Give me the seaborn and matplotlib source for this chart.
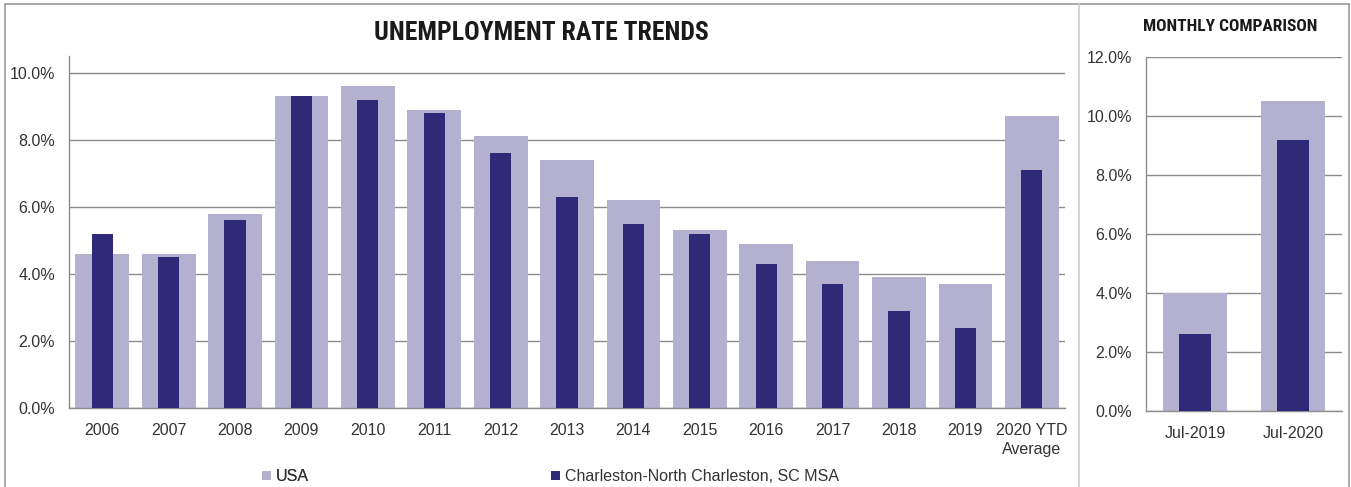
import matplotlib
matplotlib.use("Agg")
import matplotlib.pyplot as plt
import seaborn as sns
import pandas as pd
from matplotlib.patches import Patch
from matplotlib.lines import Line2D
from matplotlib.ticker import FuncFormatter, FixedLocator

# ---- data ----
years = ["2006", "2007", "2008", "2009", "2010", "2011", "2012", "2013", "2014",
         "2015", "2016", "2017", "2018", "2019", "2020 YTD\nAverage"]
usa = [4.6, 4.6, 5.8, 9.3, 9.6, 8.9, 8.1, 7.4, 6.2, 5.3, 4.9, 4.4, 3.9, 3.7, 8.7]
chs = [5.2, 4.5, 5.6, 9.3, 9.2, 8.8, 7.6, 6.3, 5.5, 5.2, 4.3, 3.7, 2.9, 2.4, 7.1]

months = ["Jul-2019", "Jul-2020"]
usa_m = [4.0, 10.5]
chs_m = [2.6, 9.2]

series_names = ["USA", "Charleston-North Charleston, SC MSA"]
main_title = "UNEMPLOYMENT RATE TRENDS"
side_title = "MONTHLY COMPARISON"

LIGHT = "#B3B0D0"
DARK = "#2F2A78"
GRID = "#8C8C8C"
TXT = "#333333"

sns.set_theme(style="white")
plt.rcParams["font.family"] = ["Liberation Sans", "DejaVu Sans"]
TITLE_FONT = ["Roboto Condensed", "Archivo Narrow", "DejaVu Sans"]
FS = 11.5

fig = plt.figure(figsize=(13.51, 4.87), dpi=100)

ax = fig.add_axes([0.0511, 0.1622, 0.7372, 0.7228])
ax2 = fig.add_axes([0.8483, 0.156, 0.145, 0.727])

df = pd.DataFrame({"cat": years, "usa": usa, "chs": chs})
dfm = pd.DataFrame({"cat": months, "usa": usa_m, "chs": chs_m})

kw = dict(saturation=1, linewidth=0, edgecolor="none")
sns.barplot(data=df, x="cat", y="usa", color=LIGHT, width=0.81, ax=ax, zorder=2, **kw)
sns.barplot(data=df, x="cat", y="chs", color=DARK, width=0.32, ax=ax, zorder=3, **kw)
sns.barplot(data=dfm, x="cat", y="usa", color=LIGHT, width=0.65, ax=ax2, zorder=2, **kw)
sns.barplot(data=dfm, x="cat", y="chs", color=DARK, width=0.33, ax=ax2, zorder=3, **kw)

pct = FuncFormatter(lambda v, p: f"{v:.1f}%")

for a, n, ymax, yt in [(ax, len(years), 10.5, [0, 2, 4, 6, 8, 10]),
                       (ax2, len(months), 12.0, [0, 2, 4, 6, 8, 10, 12])]:
    a.set_xlim(-0.5, n - 0.5)
    a.set_ylim(0, ymax)
    a.set_yticks(yt)
    a.yaxis.set_major_formatter(pct)
    a.set_xlabel("")
    a.set_ylabel("")
    a.grid(axis="y", color=GRID, linewidth=1.0, zorder=0)
    a.set_axisbelow(True)
    for s in ["top", "right"]:
        a.spines[s].set_visible(False)
    for s in ["left", "bottom"]:
        a.spines[s].set_color(GRID)
        a.spines[s].set_linewidth(1.0)
    a.tick_params(axis="y", length=0, pad=10, labelsize=FS, labelcolor=TXT)
    a.tick_params(axis="x", which="major", length=0, pad=11, labelsize=FS, labelcolor=TXT)
    a.xaxis.set_minor_locator(FixedLocator([i - 0.5 for i in range(n + 1)]))
    a.tick_params(axis="x", which="minor", length=5, color=GRID, width=1, direction="out")

for lab in ax.get_xticklabels():
    lab.set_linespacing(1.35)

fig.text(0.4005, 0.932, main_title, ha="center", va="center", fontsize=18.5,
         fontweight="bold", color="#1a1a1a", family=TITLE_FONT)
fig.text(0.9105, 0.945, side_title, ha="center", va="center", fontsize=12.5,
         fontweight="bold", color="#1a1a1a", family=TITLE_FONT)

h_usa = Patch(facecolor=LIGHT, edgecolor="none")
h_chs = Patch(facecolor=DARK, edgecolor="none")
lkw = dict(loc="center left", frameon=False, fontsize=FS, handlelength=0.55,
           handleheight=0.55, handletextpad=0.3, borderpad=0, borderaxespad=0,
           labelcolor=TXT)
leg1 = fig.legend([h_usa], [series_names[0]], bbox_to_anchor=(262 / 1351, 0.021), **lkw)
fig.add_artist(leg1)
fig.legend([h_chs], [series_names[1]], bbox_to_anchor=(551 / 1351, 0.021), **lkw)

# frame and divider
fig.add_artist(Line2D([0.0037, 0.0037], [0, 0.992], color="#999999", lw=1.2, transform=fig.transFigure))
fig.add_artist(Line2D([0.9985, 0.9985], [0, 0.992], color="#999999", lw=1.2, transform=fig.transFigure))
fig.add_artist(Line2D([0.0037, 0.9985], [0.992, 0.992], color="#999999", lw=1.2, transform=fig.transFigure))
fig.add_artist(Line2D([0.7987, 0.7987], [0, 0.992], color="#CCCCCC", lw=1.2, transform=fig.transFigure))

fig.savefig("out.png", dpi=100)
